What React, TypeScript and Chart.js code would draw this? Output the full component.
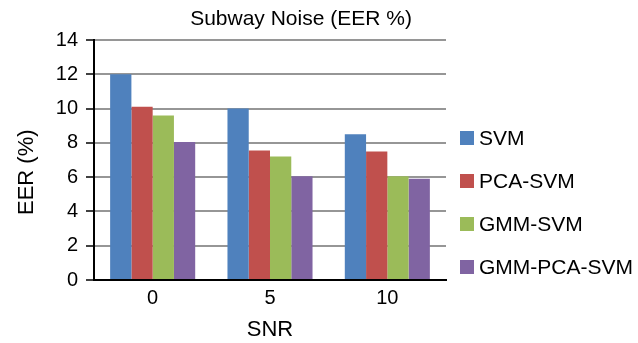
import React, { useEffect, useRef } from "react";
import { Chart, registerables } from "chart.js";

Chart.register(...registerables);

const FONT = "'Liberation Sans', Arial, Helvetica, sans-serif";

const categories = ["0", "5", "10"];
const seriesNames = ["SVM", "PCA-SVM", "GMM-SVM", "GMM-PCA-SVM"];
const svmValues = [12.0, 10.0, 8.5];
const pcaSvmValues = [10.1, 7.55, 7.5];
const gmmSvmValues = [9.6, 7.2, 6.05];
const gmmPcaSvmValues = [8.05, 6.05, 5.9];
const seriesColors = ["#4F81BD", "#C0504D", "#9BBB59", "#8064A2"];
const yTickValues = [0, 2, 4, 6, 8, 10, 12, 14];
const chartTitle = "Subway Noise (EER %)";
const xAxisTitle = "SNR";
const yAxisTitle = "EER (%)";

const seriesValues = [svmValues, pcaSvmValues, gmmSvmValues, gmmPcaSvmValues];

const overlayPlugin = {
  id: "overlayTitleLegend",
  afterDraw(chart: any) {
    const { ctx, chartArea } = chart;
    ctx.save();
    ctx.font = `21px ${FONT}`;
    ctx.fillStyle = "#000";
    ctx.textAlign = "center";
    ctx.textBaseline = "middle";
    ctx.fillText(chartTitle, chartArea.left + 207, 19);

    const startY = 138;
    const step = 43;
    chart.data.datasets.forEach((ds: any, i: number) => {
      const cy = startY + i * step;
      ctx.fillStyle = ds.backgroundColor;
      ctx.fillRect(chartArea.right + 14, cy - 7, 14, 14);
      ctx.fillStyle = "#000";
      ctx.textAlign = "left";
      ctx.fillText(ds.label, chartArea.right + 33, cy + 1);
    });
    ctx.restore();
  },
};

export default function App() {
  const canvasRef = useRef<HTMLCanvasElement | null>(null);

  useEffect(() => {
    if (!canvasRef.current) return;
    const chart = new Chart(canvasRef.current, {
      type: "bar",
      data: {
        labels: categories,
        datasets: seriesNames.map((name, i) => ({
          label: name,
          data: seriesValues[i],
          backgroundColor: seriesColors[i],
          borderWidth: 0,
          categoryPercentage: 0.725,
          barPercentage: 1.0,
        })),
      },
      options: {
        responsive: false,
        animation: false,
        devicePixelRatio: 1,
        layout: { padding: { top: 40, right: 192, bottom: 0, left: 0 } },
        plugins: {
          legend: { display: false },
          title: { display: false },
          tooltip: { enabled: false },
        },
        scales: {
          x: {
            grid: { display: false, drawTicks: false },
            border: { display: true, color: "#000", width: 2 },
            ticks: { color: "#000", font: { family: FONT, size: 20 }, padding: 6 },
            title: {
              display: true,
              text: xAxisTitle,
              color: "#000",
              font: { family: FONT, size: 22 },
              padding: { top: 0, bottom: 0 },
            },
            afterFit: (scale: any) => {
              scale.height = 63;
            },
          },
          y: {
            min: 0,
            max: 14,
            afterBuildTicks: (scale: any) => {
              scale.ticks = yTickValues.map((v) => ({ value: v }));
            },
            grid: {
              color: "#969696",
              lineWidth: 2,
              drawTicks: true,
              tickLength: 8,
              tickColor: "#000",
              tickWidth: 1.5,
            },
            border: { display: true, color: "#000", width: 2 },
            ticks: { color: "#000", font: { family: FONT, size: 20 }, padding: 8 },
            title: {
              display: true,
              text: yAxisTitle + "    ",
              color: "#000",
              font: { family: FONT, size: 22 },
              padding: { top: 14, bottom: 0 },
            },
            afterFit: (scale: any) => {
              scale.width = 94;
            },
          },
        },
      },
      plugins: [overlayPlugin],
    });
    return () => chart.destroy();
  }, []);

  return (
    <div style={{ position: "fixed", left: 0, top: 0, width: 638, height: 343, background: "#fff" }}>
      <canvas ref={canvasRef} width={638} height={343} />
    </div>
  );
}
